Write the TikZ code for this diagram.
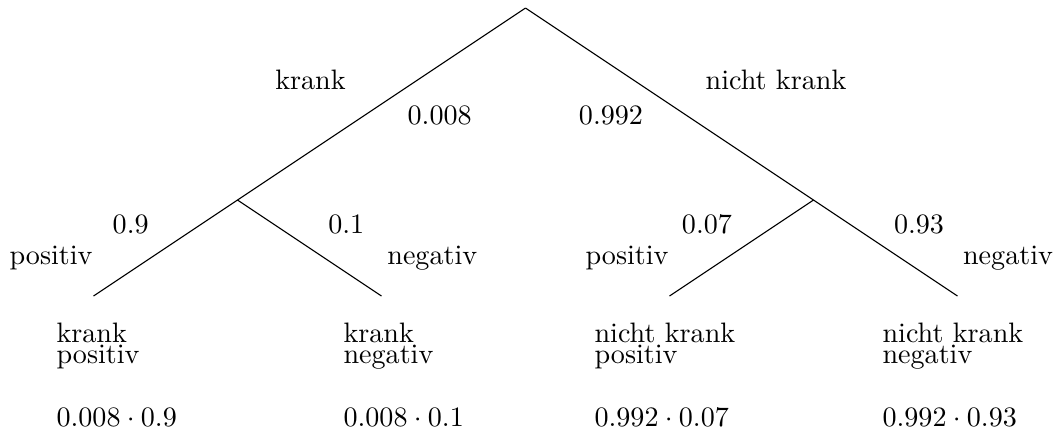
\documentclass[tikz,border=0pt]{standalone}
\usepackage{amsmath}
\usepackage{tikz}

\begin{document}
\begin{tikzpicture}[x=0.6cm,y=0.6cm,
    lbl/.style={inner sep=0pt,anchor=base},
    leaf/.style={inner sep=0pt,anchor=base west,align=left,font={\setlength{\baselineskip}{0pt}}}]
  \useasboundingbox (-10.948,0.167) rectangle (11.073,-8.875);
  % Wurzel und Verzweigungen
  \coordinate (W) at (0,0);
  \coordinate (K) at (-6,-4);
  \coordinate (NK) at (6,-4);
  \coordinate (KP) at (-9,-6);
  \coordinate (KN) at (-3,-6);
  \coordinate (NKP) at (3,-6);
  \coordinate (NKN) at (9,-6);
  \draw (W) -- (K) -- (KP);
  \draw (K) -- (KN);
  \draw (W) -- (NK) -- (NKN);
  \draw (NK) -- (NKP);
  % erste Stufe
  \node[lbl] (tk) at (-4.479,-1.694) {krank};
  \node[lbl] (pk) at (-1.788,-2.423) {0.008};
  \node[lbl] (pnk) at (1.781,-2.423) {0.992};
  \node[lbl] (tnk) at (5.219,-1.694) {nicht krank};
  % zweite Stufe
  \node[lbl] (pkp) at (-8.225,-4.694) {0.9};
  \node[lbl] (tkp) at (-9.885,-5.333) {positiv};
  \node[lbl] (pkn) at (-3.733,-4.694) {0.1};
  \node[lbl] (tkn) at (-1.942,-5.333) {negativ};
  \node[lbl] (pnkp) at (3.781,-4.694) {0.07};
  \node[lbl] (tnkp) at (2.115,-5.333) {positiv};
  \node[lbl] (pnkn) at (8.198,-4.694) {0.93};
  \node[lbl] (tnkn) at (10.052,-5.333) {negativ};
  % Ergebnisse
  \node[leaf] (eKP) at (-9.781,-7.408) {krank\\positiv};
  \node[leaf] (eKN) at (-3.802,-7.408) {krank\\negativ};
  \node[leaf] (eNKP) at (1.427,-7.408) {nicht krank\\positiv};
  \node[leaf] (eNKN) at (7.427,-7.408) {nicht krank\\negativ};
  \node[leaf] (wKP) at (-9.781,-8.708) {$0.008\cdot0.9$};
  \node[leaf] (wKN) at (-3.802,-8.708) {$0.008\cdot0.1$};
  \node[leaf] (wNKP) at (1.427,-8.708) {$0.992\cdot0.07$};
  \node[leaf] (wNKN) at (7.427,-8.708) {$0.992\cdot0.93$};
\end{tikzpicture}
\end{document}
